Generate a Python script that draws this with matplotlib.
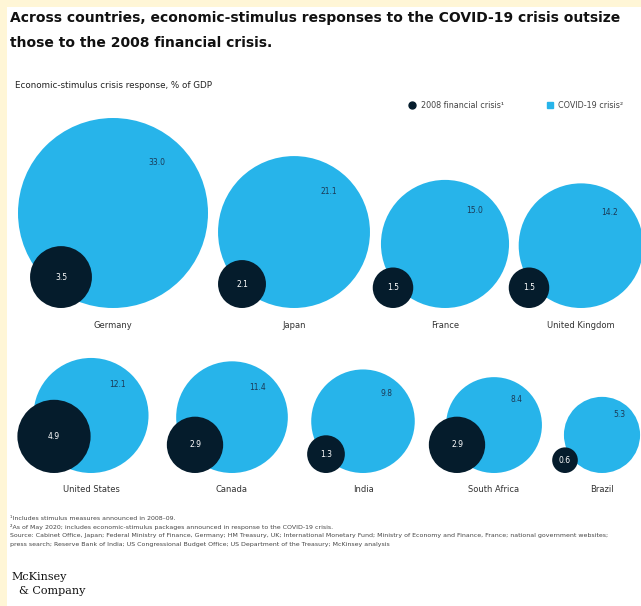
import numpy as np
import matplotlib.pyplot as plt
from matplotlib.patches import Circle, Rectangle

# Economic-stimulus crisis response, % of GDP
countries = ["Germany", "Japan", "France", "United Kingdom",
             "United States", "Canada", "India", "South Africa", "Brazil"]
covid_2020 = [33.0, 21.1, 15.0, 14.2, 12.1, 11.4, 9.8, 8.4, 5.3]
crisis_2008 = [3.5, 2.1, 1.5, 1.5, 4.9, 2.9, 1.3, 2.9, 0.6]

BLUE = "#27b4ea"
NAVY = "#051c2c"
CREAM = "#fff6d6"

W, H = 641, 606
fig = plt.figure(figsize=(W / 100, H / 100), dpi=100, facecolor=CREAM)
ax = fig.add_axes([0, 0, 1, 1])
ax.set_xlim(0, W)
ax.set_ylim(H, 0)
ax.axis("off")
ax.add_patch(Rectangle((7, 7), W, H, facecolor="white", edgecolor="none", zorder=0))

# circle area proportional to value
k = 95 / np.sqrt(max(covid_2020))

def radius(v):
    return k * np.sqrt(v)

# layout: centre x of each COVID-19 circle, baseline y per row
centres_x = [113, 294, 445, 581, 91, 232, 363, 494, 602]
row = [0, 0, 0, 0, 1, 1, 1, 1, 1]
baseline = [308, 473]
small_offset = [-52, -37]
label_y = [325, 490]

for i, name in enumerate(countries):
    cx = centres_x[i]
    r_big = radius(covid_2020[i])
    r_small = radius(crisis_2008[i])
    base = baseline[row[i]]
    cy = base - r_big
    ax.add_patch(Circle((cx, cy), r_big, facecolor=BLUE, edgecolor="none", zorder=2))
    sx = cx + small_offset[row[i]]
    sy = base - r_small
    ax.add_patch(Circle((sx, sy), r_small, facecolor=NAVY, edgecolor="none", zorder=3))
    ax.text(cx + 0.46 * r_big, cy - 0.53 * r_big, f"{covid_2020[i]:.1f}",
            ha="center", va="center", fontsize=5.5, color="#1b3a57", zorder=4)
    ax.text(sx, sy, f"{crisis_2008[i]:.1f}", ha="center", va="center",
            fontsize=5.5, color="white", zorder=4)
    ax.text(cx, label_y[row[i]], name, ha="center", va="center",
            fontsize=6, color="#333333", zorder=4)

# title and subtitle
ax.text(10, 18, "Across countries, economic-stimulus responses to the COVID-19 crisis outsize",
        fontsize=10.0, fontweight="bold", color="#111111", va="center", ha="left")
ax.text(10, 43, "those to the 2008 financial crisis.",
        fontsize=10.0, fontweight="bold", color="#111111", va="center", ha="left")
ax.text(15, 86, "Economic-stimulus crisis response, % of GDP",
        fontsize=6.3, color="#222222", va="center", ha="left")

# legend
ax.plot([412], [105], marker="o", markersize=5, color=NAVY, linestyle="none")
ax.text(421, 105, "2008 financial crisis\u00b9", fontsize=5.8, color="#444444",
        va="center", ha="left")
ax.plot([550], [105], marker="s", markersize=4.5, color=BLUE, linestyle="none")
ax.text(558, 105, "COVID-19 crisis\u00b2", fontsize=5.8, color="#444444",
        va="center", ha="left")

# notes
notes = [
    "\u00b9Includes stimulus measures announced in 2008\u201309.",
    "\u00b2As of May 2020; includes economic-stimulus packages announced in response to the COVID-19 crisis.",
    "Source: Cabinet Office, Japan; Federal Ministry of Finance, Germany; HM Treasury, UK; International Monetary Fund; Ministry of Economy and Finance, France; national government websites;",
    "press search; Reserve Bank of India; US Congressional Budget Office; US Department of the Treasury; McKinsey analysis",
]
for j, line in enumerate(notes):
    ax.text(10, 519 + 8.5 * j, line, fontsize=4.5, color="#444444",
            va="center", ha="left")

# wordmark
ax.text(11, 577, "McKinsey", fontsize=8, family="DejaVu Serif", color="#111111",
        va="center", ha="left")
ax.text(19, 591, "& Company", fontsize=8, family="DejaVu Serif", color="#111111",
        va="center", ha="left")

fig.savefig("out.png", dpi=100, facecolor=CREAM)
